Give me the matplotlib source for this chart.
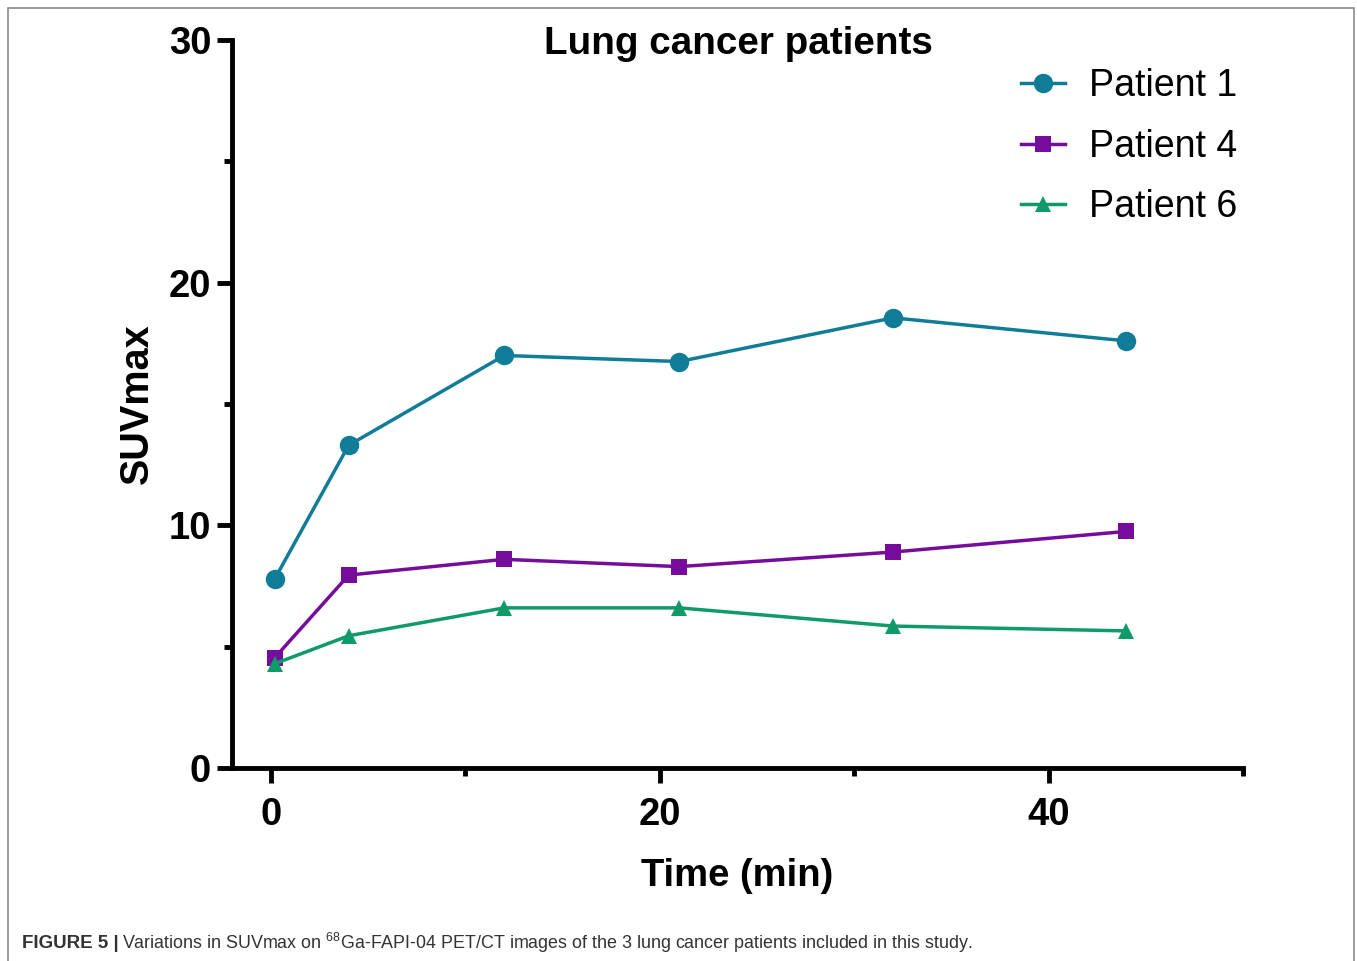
import matplotlib.pyplot as plt
from matplotlib.patches import Rectangle
from matplotlib.ticker import MultipleLocator

plt.rcParams['font.family'] = ['Liberation Sans', 'DejaVu Sans']

# Scan times (min) and SUVmax per patient
time_min = [0.2, 4, 12, 21, 32, 44]
patient1 = [7.8, 13.3, 17.0, 16.75, 18.55, 17.6]
patient4 = [4.55, 7.95, 8.6, 8.3, 8.9, 9.75]
patient6 = [4.3, 5.45, 6.6, 6.6, 5.85, 5.65]

series = [
    ("Patient 1", patient1, "#0f7c98", "o", 14),
    ("Patient 4", patient4, "#760c9c", "s", 11.5),
    ("Patient 6", patient6, "#0f9a69", "^", 11),
]

fig = plt.figure(figsize=(13.57, 9.61), dpi=100)
ax = fig.add_axes([0.171, 0.2008, 0.745, 0.7576])

for name, vals, color, marker, ms in series:
    ax.plot(time_min, vals, color=color, lw=2.5, marker=marker, ms=ms,
            markeredgewidth=0, label=name, clip_on=False)

ax.set_xlim(-2, 50)
ax.set_ylim(0, 30)
ax.xaxis.set_major_locator(MultipleLocator(20))
ax.xaxis.set_minor_locator(MultipleLocator(10))
ax.yaxis.set_major_locator(MultipleLocator(10))
ax.yaxis.set_minor_locator(MultipleLocator(5))

for side in ["top", "right"]:
    ax.spines[side].set_visible(False)
for side in ["left", "bottom"]:
    ax.spines[side].set_linewidth(3.5)

ax.tick_params(which="major", length=11, width=3.5, labelsize=27.5, pad=4)
ax.tick_params(which="minor", length=6, width=3.5)
for lbl in ax.get_xticklabels() + ax.get_yticklabels():
    lbl.set_fontweight("bold")
ax.tick_params(axis="x", which="major", pad=10)

ax.set_xlabel("Time (min)", fontsize=27.5, fontweight="bold", labelpad=18)
ax.set_ylabel("SUVmax", fontsize=28.5, fontweight="bold", labelpad=9)
ax.text(0.5005, 0.995, "Lung cancer patients", transform=ax.transAxes,
        fontsize=27.8, fontweight="bold", ha="center", va="center")

ax.legend(loc="upper right", bbox_to_anchor=(1.028, 1.008), frameon=False,
          fontsize=27, handlelength=1.17, handletextpad=0.64, labelspacing=0.66,
          markerscale=1.0)

# outer frame and caption
fig.patches.append(Rectangle((8 / 1357, -0.01), 1346 / 1357, 1 - 8 / 961 + 0.01,
                             transform=fig.transFigure, fill=False,
                             edgecolor="#8a8a8a", lw=1.2))
fig.text(22 / 1357, 1 - 943 / 961, "FIGURE 5 |", fontsize=13.5, fontweight="bold",
         color="#333333", va="center")
fig.text(122 / 1357, 1 - 943 / 961,
         r"Variations in SUVmax on $^{\mathregular{68}}$Ga-FAPI-04 PET/CT images of the 3 lung cancer patients included in this study.",
         fontsize=12.9, color="#333333", va="center")

fig.savefig("out.png", dpi=100)
